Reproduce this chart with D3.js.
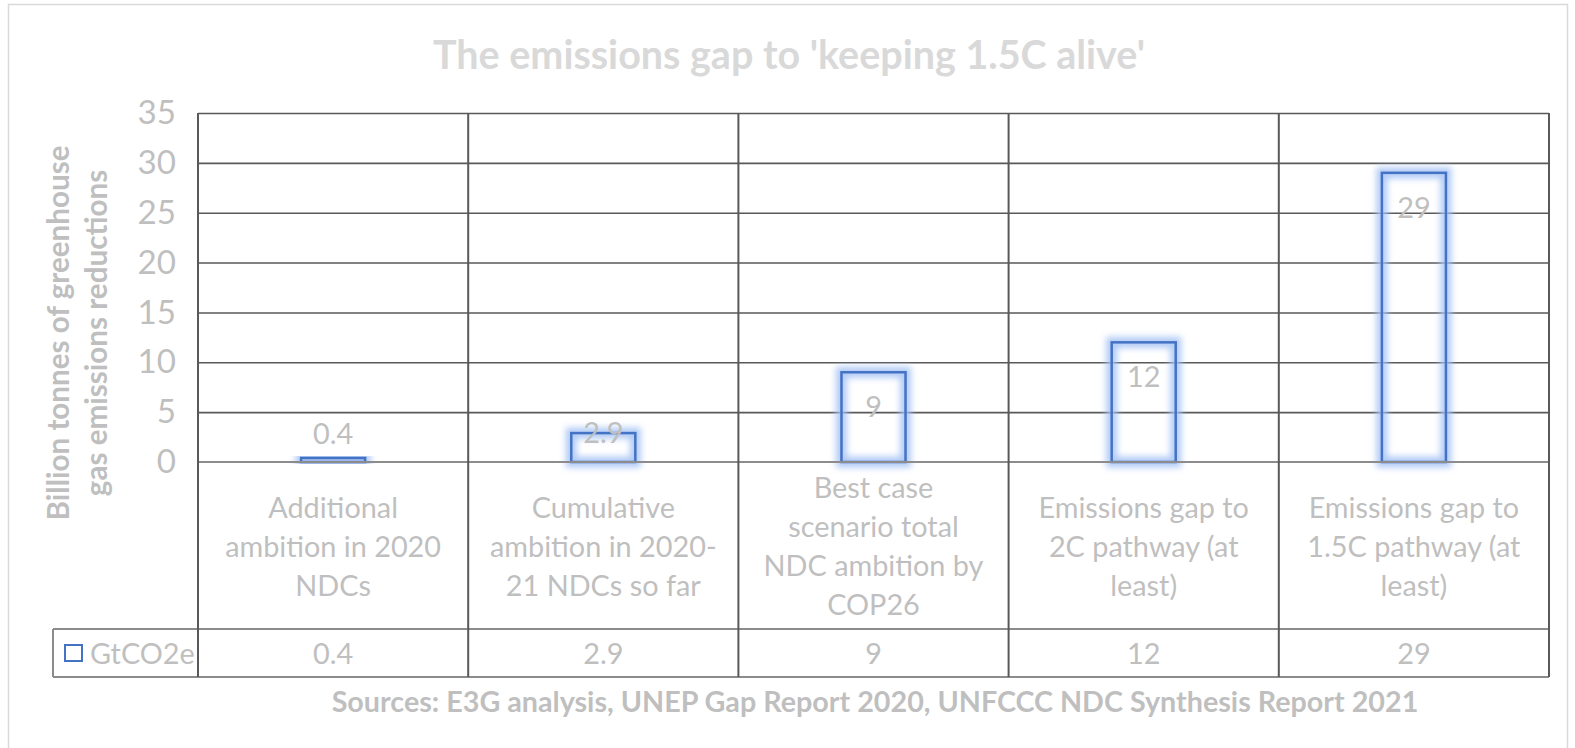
<!DOCTYPE html>
<html>
<head>
<meta charset="utf-8">
<script src="https://cdn.jsdelivr.net/npm/d3@7"></script>
<style>
    body { margin: 0; background: #fff; }
    svg { display: block; font-family: Lato, "Open Sans", sans-serif; }
</style>
</head>
<body>
<div class="chart"></div>
<script>
    // data
    const categories = [
        "Additional\nambition in 2020\nNDCs",
        "Cumulative\nambition in 2020-\n21 NDCs so far",
        "Best case\nscenario total\nNDC ambition by\nCOP26",
        "Emissions gap to\n2C pathway (at\nleast)",
        "Emissions gap to\n1.5C pathway (at\nleast)"
    ];
    const values = [0.4, 2.9, 9, 12, 29];
    const valueLabels = ["0.4", "2.9", "9", "12", "29"];
    const yTicks = [0, 5, 10, 15, 20, 25, 30, 35];
    const seriesName = "GtCO2e";
    const title = "The emissions gap to 'keeping 1.5C alive'";
    const yTitle = ["Billion tonnes of greenhouse", "gas emissions reductions"];
    const source = "Sources: E3G analysis, UNEP Gap Report 2020, UNFCCC NDC Synthesis Report 2021";

    const width = 1575,
        height = 748;
    const plotLeft = 198, plotRight = 1549, plotTop = 113, zeroY = 462;
    const tableTop = 629, tableBottom = 677, tableLeft = 53;

    const textGray = "#bfbfbf";
    const gridColor = "#595959";
    const tableColor = "#8c8c8c";
    const barBlue = "#4472c4";

    const svg = d3.select(".chart").append("svg")
        .attr("width", width)
        .attr("height", height);

    // glow for the bars
    const defs = svg.append("defs");
    defs.append("filter")
        .attr("id", "glow")
        .attr("x", "-50%").attr("y", "-50%")
        .attr("width", "200%").attr("height", "200%")
        .append("feGaussianBlur")
        .attr("stdDeviation", 3);

    // outer chart border
    svg.append("rect")
        .attr("x", 8.5).attr("y", 4.5)
        .attr("width", 1559).attr("height", 760)
        .attr("fill", "none")
        .attr("stroke", "#d9d9d9")
        .attr("stroke-width", 1.5);

    const x = d3.scaleBand()
        .domain(categories)
        .range([plotLeft, plotRight]);
    const y = d3.scaleLinear()
        .domain([0, 35])
        .range([zeroY, plotTop]);

    // work out a font size so the regular text is as wide as in the picture
    const probe = svg.append("text").style("font-size", "30px").text("ambition in 2020");
    const fs = 30 * 216 / probe.node().getComputedTextLength();
    probe.remove();

    function fitWidth(sel, target) {
        const w = sel.node().getComputedTextLength();
        const f = parseFloat(sel.style("font-size"));
        sel.style("font-size", (f * target / w) + "px");
    }

    // gridlines (zero line is drawn with the table)
    svg.append("g")
        .attr("transform", `translate(${plotLeft},0)`)
        .call(d3.axisLeft(y).tickValues(yTicks.filter(d => d > 0)).tickSize(-(plotRight - plotLeft)).tickFormat(""))
        .call(g => g.select(".domain").remove())
        .call(g => g.selectAll(".tick line").attr("stroke", gridColor).attr("stroke-width", 1.6));

    // y tick labels
    svg.append("g")
        .attr("transform", `translate(${plotLeft},0)`)
        .call(d3.axisLeft(y).tickValues(yTicks).tickSize(0).tickPadding(22))
        .call(g => g.select(".domain").remove())
        .call(g => g.selectAll(".tick text")
            .attr("fill", textGray)
            .style("font-family", "Lato")
            .style("font-size", (fs * 1.15) + "px"));

    // bars: soft blue glow + outline, no fill
    const barW = x.bandwidth() * 0.237;
    const bars = svg.append("g").selectAll("g")
        .data(values)
        .join("g");
    bars.append("rect")
        .attr("x", (d, i) => x(categories[i]) + (x.bandwidth() - barW) / 2)
        .attr("y", d => y(d))
        .attr("width", barW)
        .attr("height", d => zeroY - y(d))
        .attr("fill", "none")
        .attr("stroke", "#a4c2f4")
        .attr("stroke-opacity", 0.85)
        .attr("stroke-width", 11)
        .attr("filter", "url(#glow)");
    bars.append("rect")
        .attr("x", (d, i) => x(categories[i]) + (x.bandwidth() - barW) / 2)
        .attr("y", d => y(d))
        .attr("width", barW)
        .attr("height", d => zeroY - y(d))
        .attr("fill", "none")
        .attr("stroke", barBlue)
        .attr("stroke-width", 2.5);

    // data labels: outside end for tiny bar, inside end otherwise
    svg.append("g").selectAll("text")
        .data(values)
        .join("text")
        .attr("x", (d, i) => x(categories[i]) + x.bandwidth() / 2)
        .attr("y", d => {
            if (d < 1) return y(d) - 25;
            return Math.min(y(d) + 34, zeroY - 30);
        })
        .attr("text-anchor", "middle")
        .attr("dominant-baseline", "central")
        .attr("fill", textGray)
        .style("font-size", fs + "px")
        .text((d, i) => valueLabels[i]);

    // table lines
    const lines = svg.append("g")
        .attr("stroke", tableColor)
        .attr("stroke-width", 2);
    lines.append("line").attr("x1", plotLeft).attr("x2", plotRight).attr("y1", zeroY).attr("y2", zeroY);
    lines.append("line").attr("x1", tableLeft).attr("x2", plotRight).attr("y1", tableTop).attr("y2", tableTop);
    lines.append("line").attr("x1", tableLeft).attr("x2", plotRight).attr("y1", tableBottom).attr("y2", tableBottom);
    lines.append("line").attr("x1", tableLeft).attr("x2", tableLeft).attr("y1", tableTop).attr("y2", tableBottom);
    lines.selectAll(".col")
        .data(categories.map(c => x(c)).concat([plotRight]))
        .join("line")
        .attr("class", "col")
        .attr("x1", d => d).attr("x2", d => d)
        .attr("y1", plotTop).attr("y2", tableBottom)
        .attr("stroke", gridColor);

    // category labels, centred in each cell
    const lineH = 39;
    svg.append("g").selectAll("text")
        .data(categories)
        .join("text")
        .attr("text-anchor", "middle")
        .attr("fill", textGray)
        .style("font-size", fs + "px")
        .each(function (d) {
            const parts = d.split("\n");
            const cy = (zeroY + tableTop) / 2 - (parts.length - 1) * lineH / 2;
            d3.select(this).selectAll("tspan")
                .data(parts)
                .join("tspan")
                .attr("x", x(d) + x.bandwidth() / 2)
                .attr("y", (p, j) => cy + j * lineH)
                .attr("dominant-baseline", "central")
                .text(p => p);
        });

    // table values
    svg.append("g").selectAll("text")
        .data(values)
        .join("text")
        .attr("x", (d, i) => x(categories[i]) + x.bandwidth() / 2)
        .attr("y", (tableTop + tableBottom) / 2)
        .attr("text-anchor", "middle")
        .attr("dominant-baseline", "central")
        .attr("fill", textGray)
        .style("font-size", fs + "px")
        .text((d, i) => valueLabels[i]);

    // legend key in the table
    svg.append("rect")
        .attr("x", 65).attr("y", 645)
        .attr("width", 17).attr("height", 16)
        .attr("fill", "none")
        .attr("stroke", barBlue)
        .attr("stroke-width", 2);
    svg.append("text")
        .attr("x", 90)
        .attr("y", (tableTop + tableBottom) / 2)
        .attr("dominant-baseline", "central")
        .attr("fill", textGray)
        .style("font-size", fs + "px")
        .text(seriesName);

    // title
    const t = svg.append("text")
        .attr("x", 789)
        .attr("y", 53)
        .attr("text-anchor", "middle")
        .attr("dominant-baseline", "central")
        .attr("fill", "#d9d9d9")
        .style("font-weight", "bold")
        .style("font-size", "36px")
        .text(title);
    fitWidth(t, 712);

    // y axis title
    const yt = svg.append("g")
        .attr("transform", "translate(76,333) rotate(-90)");
    const yt1 = yt.append("text")
        .attr("y", -19)
        .attr("text-anchor", "middle")
        .attr("dominant-baseline", "central")
        .attr("fill", textGray)
        .style("font-weight", "bold")
        .style("font-size", "28px")
        .text(yTitle[0]);
    fitWidth(yt1, 375);
    yt.append("text")
        .attr("y", 19)
        .attr("text-anchor", "middle")
        .attr("dominant-baseline", "central")
        .attr("fill", textGray)
        .style("font-weight", "bold")
        .style("font-size", yt1.style("font-size"))
        .text(yTitle[1]);

    // source note
    const s = svg.append("text")
        .attr("x", 875)
        .attr("y", 701)
        .attr("text-anchor", "middle")
        .attr("dominant-baseline", "central")
        .attr("fill", textGray)
        .style("font-weight", "bold")
        .style("font-size", "26px")
        .text(source);
    fitWidth(s, 1087);
</script>
</body>
</html>
